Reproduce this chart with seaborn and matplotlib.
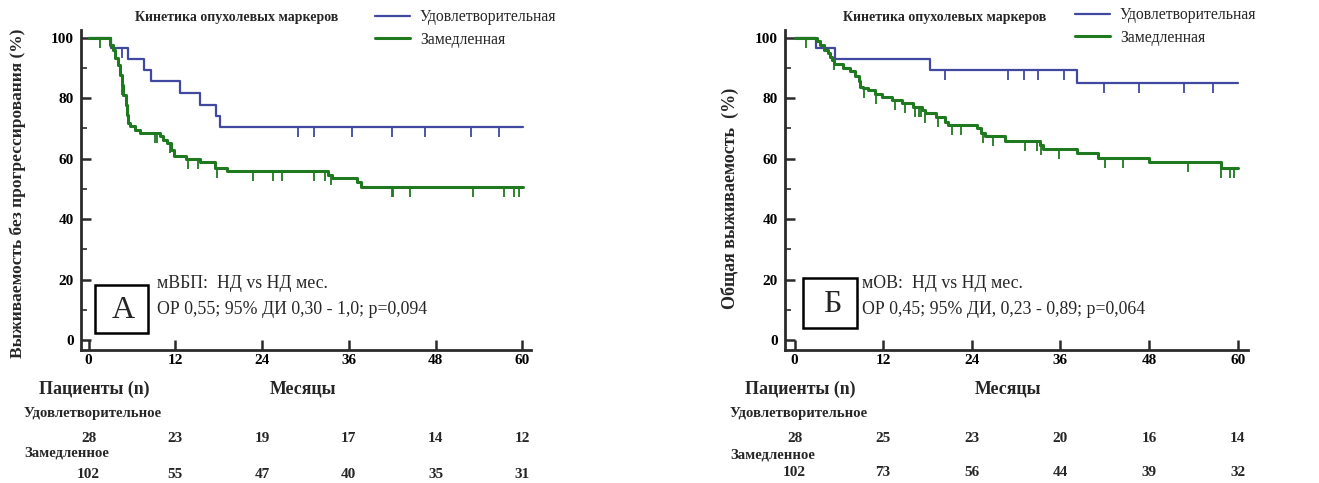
import numpy as np
import pandas as pd
import matplotlib
matplotlib.use("Agg")
import matplotlib.pyplot as plt
import matplotlib.transforms as mtransforms
from matplotlib.patches import Rectangle
import seaborn as sns

# ---------------- data ----------------
month_ticks = [0, 12, 24, 36, 48, 60]
pct_ticks = [0, 20, 40, 60, 80, 100]
group_labels = ["Удовлетворительная", "Замедленная"]
risk_row_labels = ["Удовлетворительное", "Замедленное"]

# Panel A: progression-free survival
pfs_sat_t = [0, 3.1, 5.5, 7.7, 8.6, 12.6, 15.4, 17.6, 18.2, 60.1]
pfs_sat_s = [100, 96.4, 92.9, 89.3, 85.7, 81.6, 77.6, 74.0, 70.4, 70.4]
pfs_sat_cens = [4.6, 29.0, 31.2, 36.5, 41.9, 46.6, 52.9, 56.8]

pfs_slow_t = [0, 2.9, 3.4, 3.7, 4.0, 4.4, 4.6, 4.8, 5.1, 5.3, 5.5, 5.7, 6.4, 7.1,
              9.9, 10.3, 10.9, 11.4, 11.8, 13.5, 15.4, 17.5, 19.1, 33.1, 33.6,
              37.1, 37.7, 60.1]
pfs_slow_s = [100, 97.6, 95.9, 93.2, 91.0, 87.7, 84.4, 81.0, 77.7, 74.4, 71.7,
              70.6, 69.5, 68.4, 67.3, 66.2, 65.1, 62.9, 60.9, 59.8, 58.7, 57.0,
              56.0, 54.6, 53.5, 52.4, 50.7, 50.7]
pfs_slow_cens = [1.6, 4.6, 9.2, 9.5, 11.2, 13.7, 15.1, 17.7, 22.7, 25.5, 26.8,
                 31.2, 32.7, 33.5, 41.9, 42.1, 44.5, 53.2, 57.5, 58.9, 59.5]

# Panel B: overall survival
os_sat_t = [0, 2.9, 5.5, 18.4, 38.2, 60.1]
os_sat_s = [100, 96.4, 92.9, 89.3, 84.9, 84.9]
os_sat_cens = [20.4, 28.9, 31.1, 32.9, 36.5, 41.9, 46.7, 52.8, 56.7]

os_slow_t = [0, 3.0, 3.5, 4.0, 4.5, 4.8, 5.1, 5.4, 6.6, 7.5, 8.2, 8.7, 8.9, 9.3,
             9.9, 10.9, 11.8, 13.2, 14.5, 16.1, 17.2, 17.7, 19.2, 20.4, 20.8,
             24.7, 25.3, 25.8, 28.5, 33.2, 33.6, 38.2, 41.1, 48.0, 57.7, 60.1]
os_slow_s = [100, 98.7, 97.4, 95.9, 94.8, 93.7, 92.6, 91.2, 90.1, 88.8, 87.4,
             85.7, 83.8, 83.2, 82.5, 81.4, 80.5, 79.4, 78.3, 77.2, 76.1, 75.0,
             73.9, 72.2, 71.1, 70.0, 68.4, 67.5, 65.8, 64.5, 63.2, 61.8, 60.3,
             58.8, 57.0, 57.0]
os_slow_cens = [1.6, 5.3, 9.4, 11.0, 13.6, 15.0, 16.3, 16.8, 17.1, 17.7, 19.4,
                21.3, 22.6, 25.5, 26.9, 31.2, 32.8, 33.4, 35.8, 42.0, 44.5, 53.3,
                57.8, 59.0, 59.5]

risk_pfs_sat = [28, 23, 19, 17, 14, 12]
risk_pfs_slow = [102, 55, 47, 40, 35, 31]
risk_os_sat = [28, 25, 23, 20, 16, 14]
risk_os_slow = [102, 73, 56, 44, 39, 32]

# ---------------- style ----------------
sns.set_style("ticks")
plt.rcParams["font.family"] = ["Liberation Serif", "DejaVu Serif"]

W, H = 1319, 483
fig = plt.figure(figsize=(W / 100, H / 100), dpi=100)

BLUE = "#40489f"
GREEN = "#1f7a1f"
AXC = "#2b2b2b"


def fx(px):
    return px / W


def fy(py):
    return 1 - py / H


def draw_panel(rect, xlim, curves, title_x, legend_x, legend_y, ylabel, ylabel_x,
               ylabel_y, ylabel_fs, box, box_letter, ann_x, ann_y, ann_lines,
               risk_rows, tab):
    ax = fig.add_axes(rect)
    for t, s, c, color, lw, lab in curves:
        df = pd.DataFrame({"t": t, "s": s})
        sns.lineplot(data=df, x="t", y="s", ax=ax, color=color, lw=lw,
                     drawstyle="steps-post", estimator=None, sort=False,
                     label=lab)
        ta = np.asarray(t)
        sa = np.asarray(s)
        cs = sa[np.searchsorted(ta, c, side="right") - 1]
        ax.plot(c, cs, ls="none", marker=3, ms=7, mew=1.3, color=color)
    ax.set_xlim(*xlim)
    ax.set_ylim(-3.3, 102.5)
    ax.set_xticks(month_ticks)
    ax.set_xticklabels([str(m) for m in month_ticks], fontweight="bold")
    ax.set_yticks(pct_ticks)
    ax.set_yticklabels([str(p) for p in pct_ticks], fontweight="bold")
    ax.set_yticks([10, 30, 50, 70, 90], minor=True)
    ax.tick_params(axis="both", which="major", direction="in", length=7,
                   width=1.8, color=AXC, labelsize=11, labelcolor="black")
    ax.tick_params(axis="x", which="major", pad=3)
    ax.tick_params(axis="y", which="major", pad=5)
    ax.tick_params(axis="y", which="minor", direction="in", length=4,
                   width=1.2, color=AXC)
    for sp in ("top", "right"):
        ax.spines[sp].set_visible(False)
    for sp in ("left", "bottom"):
        ax.spines[sp].set_linewidth(2.0)
        ax.spines[sp].set_color(AXC)
    ax.set_xlabel("")
    ax.set_ylabel("")

    # legend
    handles, labels = ax.get_legend_handles_labels()
    ax.legend(handles, labels, loc="upper left",
              bbox_to_anchor=(fx(legend_x), fy(legend_y)),
              bbox_transform=fig.transFigure, frameon=False, fontsize=11.3,
              handlelength=2.25, handletextpad=0.62, labelspacing=0.42,
              borderpad=0, borderaxespad=0)
    fig.text(fx(title_x), fy(17), "Кинетика опухолевых маркеров",
             fontsize=10, fontweight="bold", ha="center", va="center")

    fig.text(fx(ylabel_x), fy(ylabel_y), ylabel, rotation=90,
             fontsize=ylabel_fs, fontweight="bold", ha="center", va="center")

    # letter box
    bx0, by0, bx1, by1 = box
    fig.add_artist(Rectangle((fx(bx0), fy(by1)), fx(bx1 - bx0),
                             (by1 - by0) / H, transform=fig.transFigure,
                             fill=False, lw=1.8, ec="black"))
    fig.text(fx((bx0 + bx1) / 2 + 2), fy((by0 + by1) / 2 + 1), box_letter,
             fontsize=23, ha="center", va="center")
    fig.text(fx(ann_x), fy(ann_y[0]), ann_lines[0], fontsize=12.8,
             ha="left", va="center")
    fig.text(fx(ann_x), fy(ann_y[1]), ann_lines[1], fontsize=12.8,
             ha="left", va="center")

    # number at risk table
    pat_x, mon_x, row_label_x, ys = tab
    fig.text(fx(pat_x), fy(ys[0]), "Пациенты (n)", fontsize=12.9,
             fontweight="bold", ha="left", va="center")
    fig.text(fx(mon_x), fy(ys[0]), "Месяцы", fontsize=12.9,
             fontweight="bold", ha="center", va="center")
    trans = mtransforms.blended_transform_factory(ax.transData,
                                                  fig.transFigure)
    for i, (lab, vals) in enumerate(zip(risk_row_labels, risk_rows)):
        fig.text(fx(row_label_x), fy(ys[1 + 2 * i]), lab, fontsize=10.6,
                 fontweight="bold", ha="left", va="center")
        for m, v in zip(month_ticks, vals):
            ax.text(m, fy(ys[2 + 2 * i]), str(v), transform=trans,
                    fontsize=11, fontweight="bold", ha="center", va="center")
    return ax


# Panel A
draw_panel(
    rect=[fx(81), fy(350), fx(531 - 81), (350 - 30) / H],
    xlim=(-1.06, 61.2),
    curves=[(pfs_sat_t, pfs_sat_s, pfs_sat_cens, BLUE, 1.6, group_labels[0]),
            (pfs_slow_t, pfs_slow_s, pfs_slow_cens, GREEN, 2.2,
             group_labels[1])],
    title_x=237, legend_x=375, legend_y=9,
    ylabel="Выживаемость без прогрессирования (%)", ylabel_x=18, ylabel_y=193,
    ylabel_fs=12.5,
    box=(95, 285, 148, 333), box_letter="А",
    ann_x=157, ann_y=(283, 309),
    ann_lines=["мВБП:  НД vs НД мес.", "ОР 0,55; 95% ДИ 0,30 - 1,0; p=0,094"],
    risk_rows=[risk_pfs_sat, risk_pfs_slow],
    tab=(39, 303, 24, (389, 414, 439, 453, 474)),
)

# Panel B
draw_panel(
    rect=[fx(785), fy(350), fx(1248 - 785), (350 - 30) / H],
    xlim=(-1.29, 61.4),
    curves=[(os_sat_t, os_sat_s, os_sat_cens, BLUE, 1.6, group_labels[0]),
            (os_slow_t, os_slow_s, os_slow_cens, GREEN, 2.2,
             group_labels[1])],
    title_x=945, legend_x=1075, legend_y=7,
    ylabel="Общая выживаемость  (%)", ylabel_x=730, ylabel_y=198,
    ylabel_fs=13,
    box=(803, 278, 857, 328), box_letter="Б",
    ann_x=862, ann_y=(283, 309),
    ann_lines=["мОВ:  НД vs НД мес.", "ОР 0,45; 95% ДИ, 0,23 - 0,89; p=0,064"],
    risk_rows=[risk_os_sat, risk_os_slow],
    tab=(745, 1008, 730, (389, 413, 438, 455, 473)),
)

fig.savefig("out.png", dpi=100)
